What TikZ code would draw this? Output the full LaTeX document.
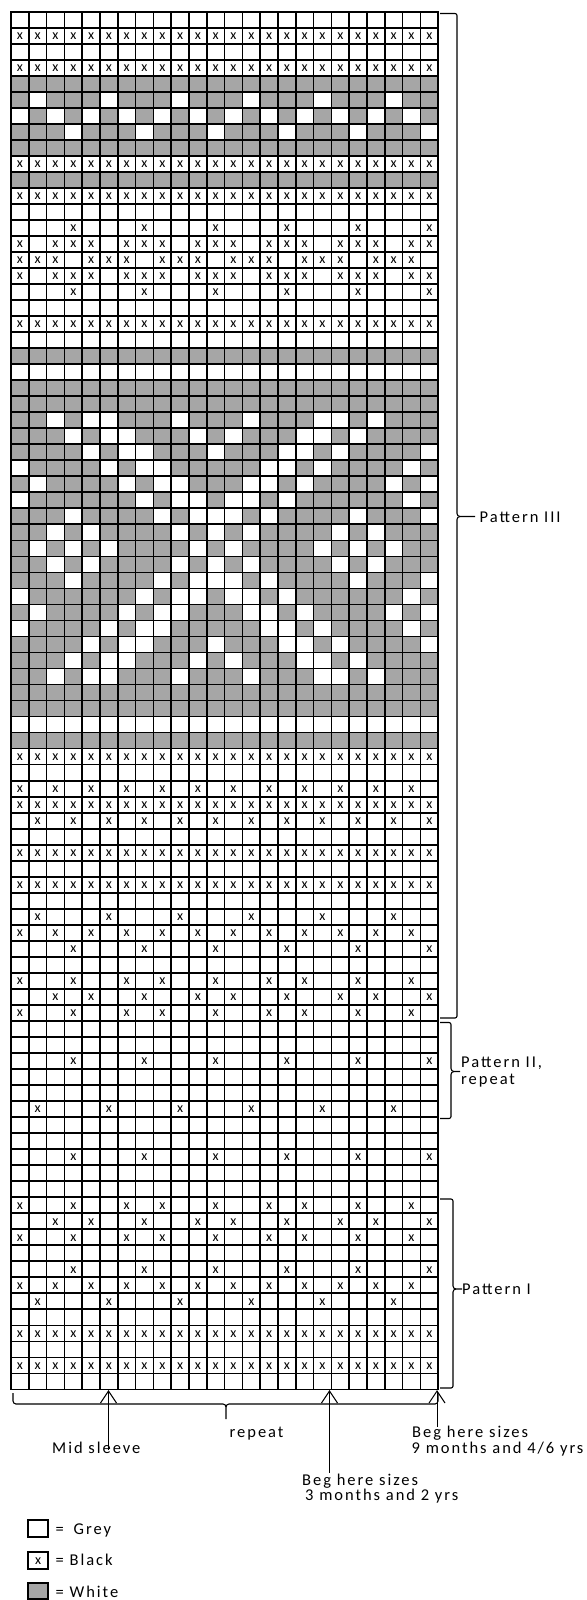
\documentclass[tikz,border=0pt]{standalone}
\usepackage{fontspec}
\usetikzlibrary{calc}
\setmainfont{Carlito}
\newfontfamily\labfont[LetterSpace=12]{Carlito}
\definecolor{cellgray}{RGB}{166,166,166}
\newcommand\chartbrace[6]{%
 \draw[bracepath] (#1,#4) -- ({#2-2},#4) to[out=0,in=90] (#2,{#4+2}) -- (#2,{#6-3}) to[out=-90,in=180] ({#2+3},#6) -- (#3,#6);
 \draw[bracepath] ({#2+3},#6) to[out=180,in=90] (#2,{#6+3}) -- (#2,{#5-2}) to[out=-90,in=0] ({#2-2},#5) -- (#1,#5);}
\begin{document}
\begin{tikzpicture}[x=1pt,y=-1pt,
  gridline/.style={line width=1.7pt,black,line cap=rect},
  xmark/.style={font=\fontsize{14}{14}\selectfont,inner sep=0pt},
  lab/.style={font=\fontsize{16.5}{15}\selectfont\labfont,inner sep=0pt,anchor=base west},
  bracepath/.style={line width=1.1pt,black,line join=round},
  arrowline/.style={line width=1pt,black,line join=miter},
  legbox/.style={line width=2pt,black}]
\useasboundingbox (0,0) rectangle (586,1600);
\def\gx{11}\def\gy{11.7}\def\cw{17.8}\def\rh{16.02}
% grey-filled rows (White yarn)
\foreach \r in {5,6,7,8,9,11,22,24,25,26,27,28,29,30,31,32,33,34,35,36,37,38,39,40,41,42,43,44,46}
  \fill[cellgray] (\gx,{\gy+(\r-1)*\rh}) rectangle ({\gx+24*\cw},{\gy+\r*\rh});
% white cells inside grey rows
\foreach \r/\cs in {6/{2,6,10,14,18,22},
  7/{1,3,5,7,9,11,13,15,17,19,21,23},
  8/{4,8,12,16,20,24},
  26/{3,5,6,10,14,18,19,21},
  27/{4,6,7,11,13,17,18,20},
  28/{5,7,8,12,16,17,19,24},
  29/{1,6,8,9,15,16,18,23},
  30/{2,7,9,10,14,15,17,22,24},
  31/{1,8,10,11,13,14,16,23},
  32/{4,9,11,12,13,15,20,24},
  33/{3,5,10,12,14,19,21},
  34/{2,4,6,11,13,18,20,22},
  35/{3,5,10,12,14,19,21},
  36/{4,9,11,12,13,15,20,24},
  37/{1,8,10,11,13,14,16,23},
  38/{2,7,9,10,14,15,17,22,24},
  39/{1,6,8,9,15,16,18,23},
  40/{5,7,8,12,16,17,19,24},
  41/{4,6,7,11,13,17,18,20},
  42/{3,5,6,10,14,18,19,21}}
  \foreach \c in \cs
    \fill[white] ({\gx+(\c-1)*\cw},{\gy+(\r-1)*\rh}) rectangle ({\gx+\c*\cw},{\gy+\r*\rh});
% full x rows
\foreach \r in {2,4,10,12,20,47,50,53,55,83,85}
  \foreach \c in {1,2,3,4,5,6,7,8,9,10,11,12,13,14,15,16,17,18,19,20,21,22,23,24}
    \node[xmark] (x-\r-\c) at ({\gx+(\c-0.5)*\cw},{\gy+(\r-0.5)*\rh+0.5}) {x};
% partial x rows
\foreach \r/\cs in {14/{4,8,12,16,20,24},
  15/{1,3,4,5,7,8,9,11,12,13,15,16,17,19,20,21,23,24},
  16/{1,2,3,5,6,7,9,10,11,13,14,15,17,18,19,21,22,23},
  17/{1,3,4,5,7,8,9,11,12,13,15,16,17,19,20,21,23,24},
  18/{4,8,12,16,20,24},
  49/{1,3,5,7,9,11,13,15,17,19,21,23},
  51/{2,4,6,8,10,12,14,16,18,20,22,24},
  57/{2,6,10,14,18,22},
  58/{1,3,5,7,9,11,13,15,17,19,21,23},
  59/{4,8,12,16,20,24},
  61/{1,4,7,9,12,15,17,20,23},
  62/{3,5,8,11,13,16,19,21,24},
  63/{1,4,7,9,12,15,17,20,23},
  66/{4,8,12,16,20,24},
  69/{2,6,10,14,18,22},
  72/{4,8,12,16,20,24},
  75/{1,4,7,9,12,15,17,20,23},
  76/{3,5,8,11,13,16,19,21,24},
  77/{1,4,7,9,12,15,17,20,23},
  79/{4,8,12,16,20,24},
  80/{1,3,5,7,9,11,13,15,17,19,21,23},
  81/{2,6,10,14,18,22}}
  \foreach \c in \cs
    \node[xmark] (x-\r-\c) at ({\gx+(\c-0.5)*\cw},{\gy+(\r-0.5)*\rh+0.5}) {x};
% grid lines
\foreach \k in {0,...,24}
  \draw[gridline] ({\gx+\k*\cw},\gy) -- ({\gx+\k*\cw},{\gy+86*\rh});
\foreach \k in {0,...,86}
  \draw[gridline] (\gx,{\gy+\k*\rh}) -- ({\gx+24*\cw},{\gy+\k*\rh});
% right braces and labels
\chartbrace{440}{457}{475}{13.5}{1018}{516.5}
\node[lab] (p3) at (479.5,522) {Pattern III};
\chartbrace{440}{451}{460}{1022.5}{1118.5}{1071.5}
\node[lab] (p2a) at (461,1067) {Pattern II,};
\node[lab] (p2b) at (461,1084) {repeat};
\chartbrace{440}{453}{462}{1199}{1388}{1289}
\node[lab] (p1) at (462,1294) {Pattern I};
% bottom brace
\draw[bracepath] (13,1393) -- (13,1401) to[out=-90,in=180] (16,1404) -- (223,1404) to[out=0,in=90] (226,1407) -- (226,1419);
\draw[bracepath] (226,1407) to[out=90,in=180] (229,1404) -- (435,1404) to[out=0,in=-90] (438,1401) -- (438,1393);
\node[lab] (rep) at (229.5,1437) {repeat};
% arrows
\coordinate (a1) at (108.5,1391);
\coordinate (a2) at (329.5,1391);
\coordinate (a3) at (437,1391);
\draw[arrowline] (a1) -- ++(0,59);
\draw[arrowline] ($(a1)+(-8,12)$) -- (a1) -- ($(a1)+(8,12)$);
\draw[arrowline] (a2) -- ++(0,82);
\draw[arrowline] ($(a2)+(-8,12)$) -- (a2) -- ($(a2)+(8,12)$);
\draw[arrowline] (a3) -- ++(0,36);
\draw[arrowline] ($(a3)+(-8,12)$) -- (a3) -- ($(a3)+(8,12)$);
\node[lab] (mid) at (52,1453) {Mid sleeve};
\node[lab] (beg1a) at (412,1437.5) {Beg here sizes};
\node[lab] (beg1b) at (411.5,1453) {9 months and 4/6 yrs};
\node[lab] (beg2a) at (302,1485) {Beg here sizes};
\node[lab] (beg2b) at (305,1500.5) {3 months and 2 yrs};
% legend
\draw[legbox,fill=white] (28.3,1520) rectangle (47.9,1537);
\node[lab] (lg1) at (55.5,1534) {=\hspace{4pt} Grey};
\draw[legbox,fill=white] (28.3,1552) rectangle (47.9,1569);
\node[xmark] (lgx) at (38.1,1561) {x};
\node[lab] (lg2) at (55.5,1565.5) {= Black};
\draw[legbox,fill=cellgray] (28.3,1582.5) rectangle (47.9,1599);
\node[lab] (lg3) at (55.5,1597) {= White};
\end{tikzpicture}
\end{document}
